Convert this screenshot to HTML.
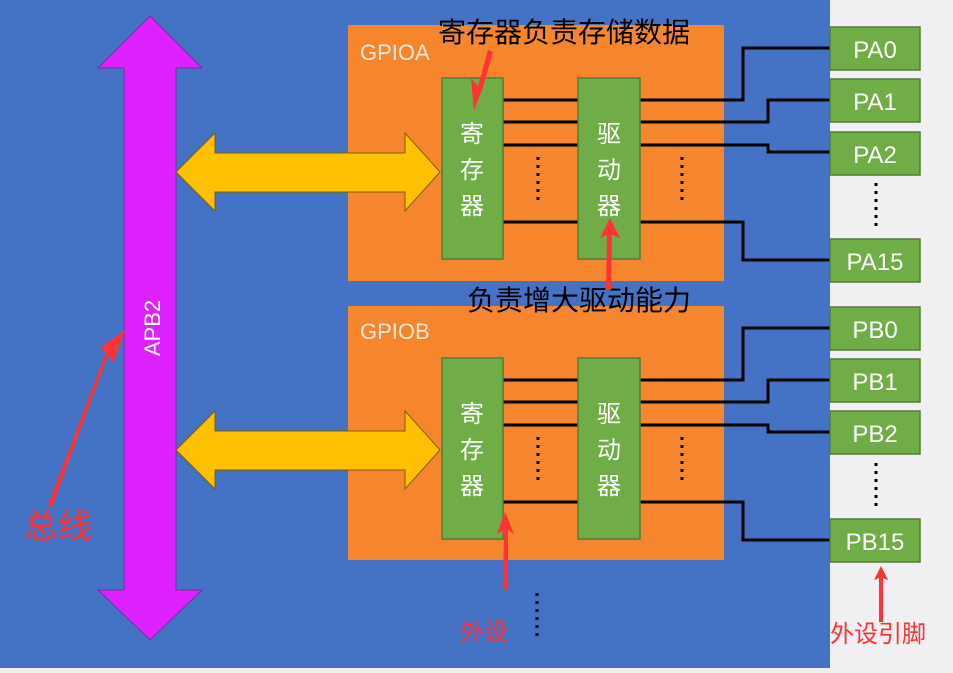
<!DOCTYPE html>
<html><head><meta charset="utf-8"><style>
body{margin:0;width:953px;height:668px;overflow:hidden;background:#f0f0f2;font-family:"Liberation Sans","Noto Sans CJK SC",sans-serif}
svg text{font-family:"Liberation Sans","Noto Sans CJK SC",sans-serif}
</style></head><body>
<svg width="953" height="668" xmlns="http://www.w3.org/2000/svg">
<rect x="0" y="0" width="830" height="668" fill="#4472c4"/>
<rect x="830" y="0" width="123" height="668" fill="#f0f0f2"/>
<!-- purple bus -->
<polygon points="150,16 202,68 176,68 176,590 202,590 150,640 98,590 124,590 124,68 98,68" fill="#dd22ff" stroke="#7030a0" stroke-width="1"/>
<text transform="translate(160,328) rotate(-90)" text-anchor="middle" font-size="22" fill="#fff">APB2</text>
<!-- GPIO blocks -->
<g id="A">
<rect x="348" y="25" width="376" height="256" fill="#f5862e"/>
</g>
<rect x="348" y="306" width="376" height="254" fill="#f5862e"/>
<text x="360" y="60" font-size="22" fill="#f8e8d8">GPIOA</text>
<text x="360" y="339" font-size="22" fill="#f8e8d8">GPIOB</text>
<!-- yellow arrows -->
<polygon points="176,172 215,133 215,153 405,153 405,133 440,172 405,211 405,192 215,192 215,211" fill="#ffc000" stroke="#7f6000" stroke-width="1"/>
<polygon points="176,450 215,411 215,431 405,431 405,411 440,450 405,489 405,470 215,470 215,489" fill="#ffc000" stroke="#7f6000" stroke-width="1"/>
<g stroke="#000" stroke-width="3" fill="none">
<path d="M503,100H578M503,122H578M503,145H578M503,222H578"/>
<path d="M640,100H743V48H830M640,122H768V100H830M640,145H768V152H830M640,222H743V260H830"/>
<path d="M503,380H578M503,402H578M503,425H578M503,502H578"/>
<path d="M640,380H743V328H830M640,402H768V380H830M640,425H768V432H830M640,502H743V540H830"/>
</g>
<g fill="#70ad47" stroke="#507e32" stroke-width="1.5">
<rect x="442" y="78" width="61" height="181"/><rect x="578" y="78" width="62" height="181"/>
<rect x="442" y="358" width="61" height="181"/><rect x="578" y="358" width="62" height="181"/>
<rect x="830" y="27" width="90" height="43"/><rect x="830" y="79" width="90" height="43"/><rect x="830" y="132" width="90" height="43"/><rect x="830" y="239" width="90" height="43"/>
<rect x="830" y="307" width="90" height="43"/><rect x="830" y="359" width="90" height="43"/><rect x="830" y="411" width="90" height="43"/><rect x="830" y="519" width="90" height="43"/>
</g>
<g fill="#fff" font-size="24" text-anchor="middle">
<text x="472" y="142">寄</text><text x="472" y="178">存</text><text x="472" y="214">器</text>
<text x="609" y="142">驱</text><text x="609" y="178">动</text><text x="609" y="214">器</text>
<text x="472" y="422">寄</text><text x="472" y="458">存</text><text x="472" y="494">器</text>
<text x="609" y="422">驱</text><text x="609" y="458">动</text><text x="609" y="494">器</text>
<text x="875" y="58">PA0</text><text x="875" y="110">PA1</text><text x="875" y="163">PA2</text><text x="875" y="270">PA15</text>
<text x="875" y="338">PB0</text><text x="875" y="390">PB1</text><text x="875" y="442">PB2</text><text x="875" y="550">PB15</text>
</g>
<g stroke="#000" stroke-width="3" stroke-dasharray="3,5">
<path d="M538,157V200M682,157V200M538,437V480M682,437V480M876,183V226M876,463V506M537,593V640"/>
</g>
<text x="438" y="42" font-size="28" fill="#000">寄存器负责存储数据</text>
<text x="467" y="310" font-size="28" fill="#000">负责增大驱动能力</text>
<!-- red arrows -->
<g fill="#ff3333">
<polygon points="488,50 493,52 481,93 486,80 474,110 471,78 478,86"/>
<polygon points="606,290 611,290 612,235 620,238 610,218 600,238 607,235"/>
<polygon points="503,590 508,590 508,530 514,534 505,512 497,534 504,530"/>
<polygon points="48,505 52,507 108,355 113,363 125,330 100,348 106,352"/>
<polygon points="879,622 883,622 883,578 888,580 881,566 874,580 879,578"/>
</g>
<text x="24" y="538" font-size="34" fill="#ff3333">总线</text>
<text x="460" y="640" font-size="24" fill="#ff3333">外设</text>
<text x="830" y="642" font-size="24" fill="#ff3333">外设引脚</text>
</svg>
</body></html>
